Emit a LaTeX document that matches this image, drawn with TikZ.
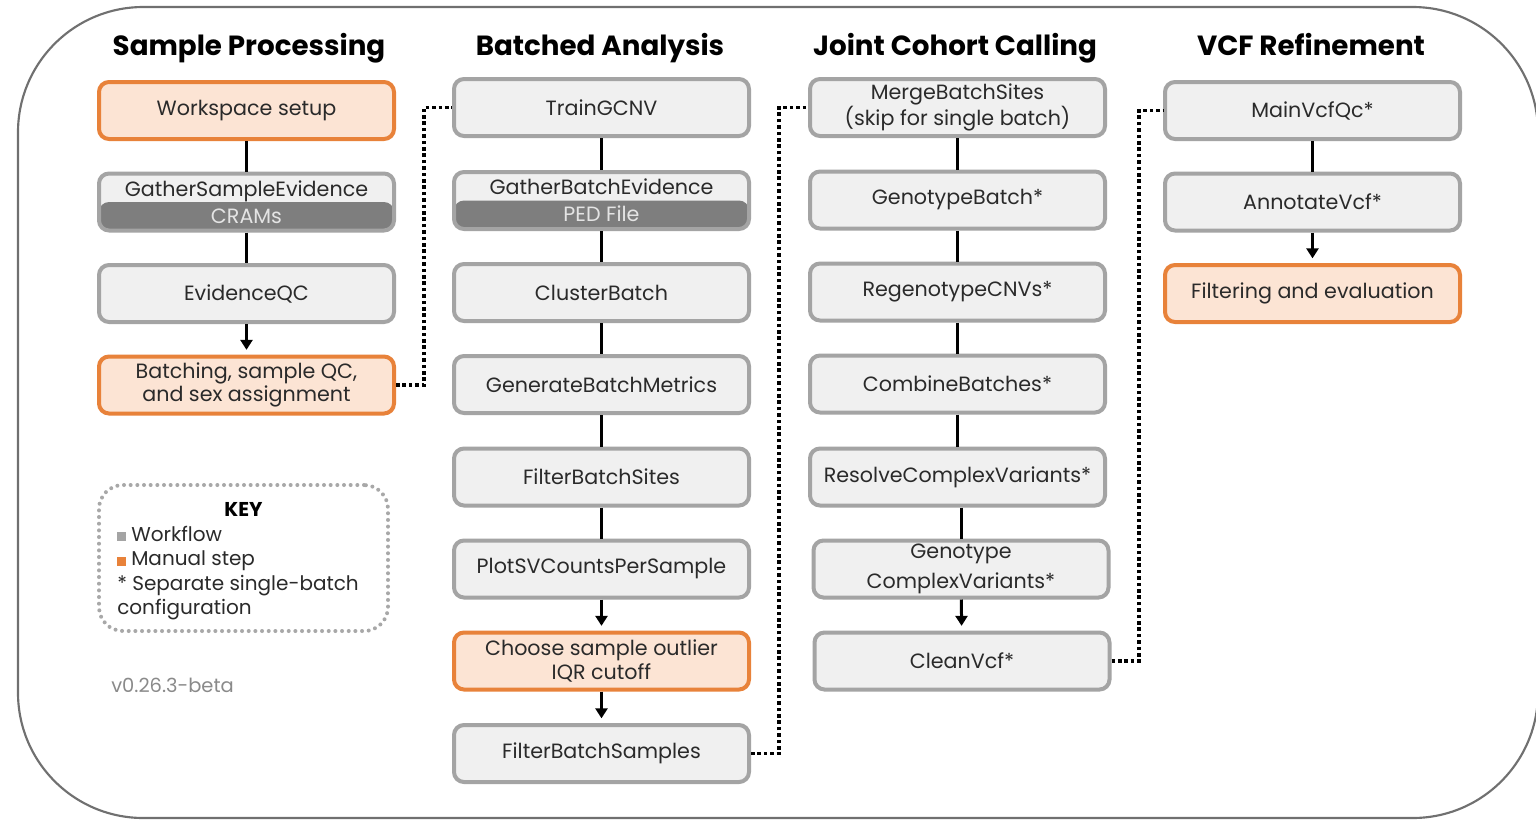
\documentclass[tikz,border=0pt]{standalone}
\usepackage{fontspec}
\setmainfont{Poppins}
\usetikzlibrary{arrows.meta,calc}

\definecolor{boxfill}{HTML}{F0F0F0}
\definecolor{boxline}{HTML}{A4A4A4}
\definecolor{manfill}{HTML}{FCE4D4}
\definecolor{manline}{HTML}{E8823A}
\definecolor{band}{HTML}{7E7E7E}
\definecolor{bandtext}{HTML}{E4E4E4}
\definecolor{txt}{HTML}{2A2A2A}
\definecolor{framecol}{HTML}{707070}
\definecolor{keyline}{HTML}{A8A8A8}
\definecolor{vercol}{HTML}{8A8A8A}

\begin{document}
\begin{tikzpicture}[x=0.75pt,y=-0.75pt,
  boxbase/.style={rectangle, rounded corners=7.5pt, line width=3pt,
    minimum width=221.25pt, minimum height=42.75pt, inner sep=0pt,
    align=center, text=txt, font=\fontsize{15.5}{17.5}\selectfont},
  wbox/.style={boxbase, draw=boxline, fill=boxfill},
  mbox/.style={boxbase, draw=manline, fill=manfill},
  banded/.style={font=\fontsize{15.5}{20.5}\selectfont,
    path picture={\fill[band] (path picture bounding box.west) rectangle (path picture bounding box.south east);}},
  hd/.style={anchor=base, text=black, font=\fontsize{20.8}{24}\selectfont\bfseries},
  link/.style={draw=black, line width=2.25pt},
  arr/.style={link, -{Triangle[length=7.5pt,width=9pt]}, shorten >=3.5pt},
  dots/.style={draw=black, line width=2.7pt, dash pattern=on 2.7pt off 2.1pt},
  keybox/.style={rectangle, draw=keyline, line width=3pt, line cap=round,
    dash pattern=on 0pt off 5pt, rounded corners=18pt,
    minimum width=216.75pt, minimum height=109.5pt},
  keytxt/.style={anchor=base west, text=txt, inner sep=0pt, font=\fontsize{15}{17}\selectfont}
]
\useasboundingbox (0,0) rectangle (1536,819);
\clip (0,0) rectangle (1536,819);
\fill[white] (0,0) rectangle (1536,819);

% outer frame
\draw[framecol, line width=1.6pt, rounded corners=94pt] (18,7) rectangle (1538,818);

% column headings
\node[hd] (h1) at (249,55) {Sample Processing};
\node[hd] (h2) at (600,55) {Batched Analysis};
\node[hd] (h3) at (955,55) {Joint Cohort Calling};
\node[hd] (h4) at (1311,55) {VCF Refinement};

% Sample Processing
\node[mbox] (ws)  at (246.5,110.5) {Workspace setup};
\node[wbox,banded] (gse) at (246.5,202) {GatherSampleEvidence\\\textcolor{bandtext}{CRAMs}};
\node[wbox] (eqc) at (246.5,293.5) {EvidenceQC};
\node[mbox] (bat) at (246.5,385) {Batching, sample QC,\\and sex assignment};

% Batched Analysis
\node[wbox] (tg)   at (601.5,107.5) {TrainGCNV};
\node[wbox,banded] (gbe) at (601.5,200.5) {GatherBatchEvidence\\\textcolor{bandtext}{PED File}};
\node[wbox] (cb)   at (601.5,292.5) {ClusterBatch};
\node[wbox] (gbm)  at (601.5,384.5) {GenerateBatchMetrics};
\node[wbox] (fbs)  at (601.5,477) {FilterBatchSites};
\node[wbox] (plot) at (601.5,569) {PlotSVCountsPerSample};
\node[mbox] (iqr)  at (601.5,661) {Choose sample outlier\\IQR cutoff};
\node[wbox] (fbsm) at (601.5,753.5) {FilterBatchSamples};

% Joint Cohort Calling
\node[wbox] (mbs)  at (957.5,107.5) {MergeBatchSites\\(skip for single batch)};
\node[wbox] (gb)   at (957.5,200) {GenotypeBatch*};
\node[wbox] (rc)   at (957.5,292) {RegenotypeCNVs*};
\node[wbox] (comb) at (957.5,384) {CombineBatches*};
\node[wbox] (rcv)  at (957.5,477) {ResolveComplexVariants*};
\node[wbox, font=\fontsize{15.5}{22}\selectfont] (gcv) at (961,569) {Genotype\\ComplexVariants*};
\node[wbox] (cv)   at (962,661) {CleanVcf*};

% VCF Refinement
\node[wbox] (mvq) at (1312.5,110.5) {MainVcfQc*};
\node[wbox] (av)  at (1312.5,202) {AnnotateVcf*};
\node[mbox] (fe)  at (1312.5,293.5) {Filtering and evaluation};

% solid links and arrows
\draw[link] (ws) -- (gse);
\draw[link] (gse) -- (eqc);
\draw[arr]  (eqc) -- (bat);

\draw[link] (tg) -- (gbe);
\draw[link] (gbe) -- (cb);
\draw[link] (cb) -- (gbm);
\draw[link] (gbm) -- (fbs);
\draw[link] (fbs) -- (plot);
\draw[arr]  (plot) -- (iqr);
\draw[arr]  (iqr) -- (fbsm);

\draw[link] (mbs) -- (gb);
\draw[link] (gb) -- (rc);
\draw[link] (rc) -- (comb);
\draw[link] (comb) -- (rcv);
\draw[link] (gcv.north |- rcv.south) -- (gcv.north);
\draw[arr]  (gcv) -- (cv);

\draw[link] (mvq) -- (av);
\draw[arr]  (av) -- (fe);

% dotted hand-offs between stages
\coordinate (j1) at (424,385);
\coordinate (j2) at (779,753.5);
\coordinate (j3) at (1139,661);
\draw[dots] (bat.east) -- (j1) |- (tg.west);
\draw[dots] (fbsm.east) -- (j2) |- (mbs.west);
\draw[dots] (cv.east) -- (j3) |- (mvq.west);

% key
\node[keybox] (key) at (243.5,558) {};
\node[anchor=base, text=black, inner sep=0pt, font=\fontsize{15}{17}\selectfont\bfseries] (keyt) at (243.5,516) {KEY};
\node[keytxt] (k1) at (117,541) {\textcolor{boxline}{\rule{6.5pt}{6.5pt}}\hspace{4pt}Workflow};
\node[keytxt] (k2) at (117,565.5) {\textcolor{manline}{\rule{6.5pt}{6.5pt}}\hspace{4pt}Manual step};
\node[keytxt] (k3) at (117,590) {* Separate single-batch};
\node[keytxt] (k4) at (117,614.5) {configuration};

% version tag
\node[anchor=base west, text=vercol, inner sep=0pt, font=\fontsize{14.6}{16}\selectfont] (ver) at (111,692) {v0.26.3-beta};
\end{tikzpicture}
\end{document}
